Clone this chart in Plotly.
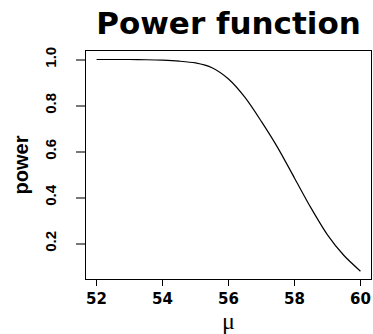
import plotly.graph_objects as go

# Values
mu = [52.0, 52.5, 53.0, 53.5, 54.0, 54.5, 55.0, 55.5, 56.0, 56.5, 57.0,
      57.5, 58.0, 58.5, 59.0, 59.5, 60.0]
power = [1.000, 1.000, 1.000, 0.999, 0.997, 0.993, 0.985, 0.964, 0.915,
         0.835, 0.730, 0.615, 0.485, 0.355, 0.238, 0.148, 0.080]

x_ticks = [52, 54, 56, 58, 60]
y_ticks = [0.2, 0.4, 0.6, 0.8, 1.0]

fig = go.Figure()
fig.add_trace(go.Scatter(x=mu, y=power, mode="lines",
                         line=dict(color="black", width=1.2, shape="spline", smoothing=0.8),
                         hoverinfo="skip", showlegend=False))

fig.update_layout(
    width=373, height=334,
    margin=dict(l=86, r=2, t=51, b=55),
    paper_bgcolor="white", plot_bgcolor="white",
    title=dict(text="<b>Power function</b>", x=0.5, xref="paper", xanchor="center",
               y=1 - 23 / 334, yref="container", yanchor="middle",
               font=dict(family="DejaVu Sans", size=31, color="black")),
    xaxis=dict(range=[51.68, 60.32], tickvals=x_ticks,
               ticktext=[f"<b>{v}</b>" for v in x_ticks],
               ticks="outside", ticklen=6, tickcolor="black", tickwidth=1,
               showline=True, mirror=True, linecolor="black", linewidth=1,
               showgrid=False, zeroline=False,
               tickfont=dict(family="DejaVu Sans", size=15, color="black"),
               title=dict(text="μ", standoff=8,
                          font=dict(family="Liberation Serif", size=24, color="black"))),
    yaxis=dict(range=[0.046, 1.037], tickvals=y_ticks,
               ticktext=[f"<b>{v:.1f}</b>" for v in y_ticks],
               tickangle=-90, ticklabelstandoff=14,
               ticks="outside", ticklen=9, tickcolor="#777", tickwidth=1.5,
               showline=True, mirror=True, linecolor="black", linewidth=1,
               showgrid=False, zeroline=False,
               tickfont=dict(family="Liberation Sans", size=15, color="black"),
               title=dict(text="<b>power</b>", standoff=8,
                          font=dict(family="Liberation Sans", size=20, color="black"))),
)

fig.write_html("out.html")
